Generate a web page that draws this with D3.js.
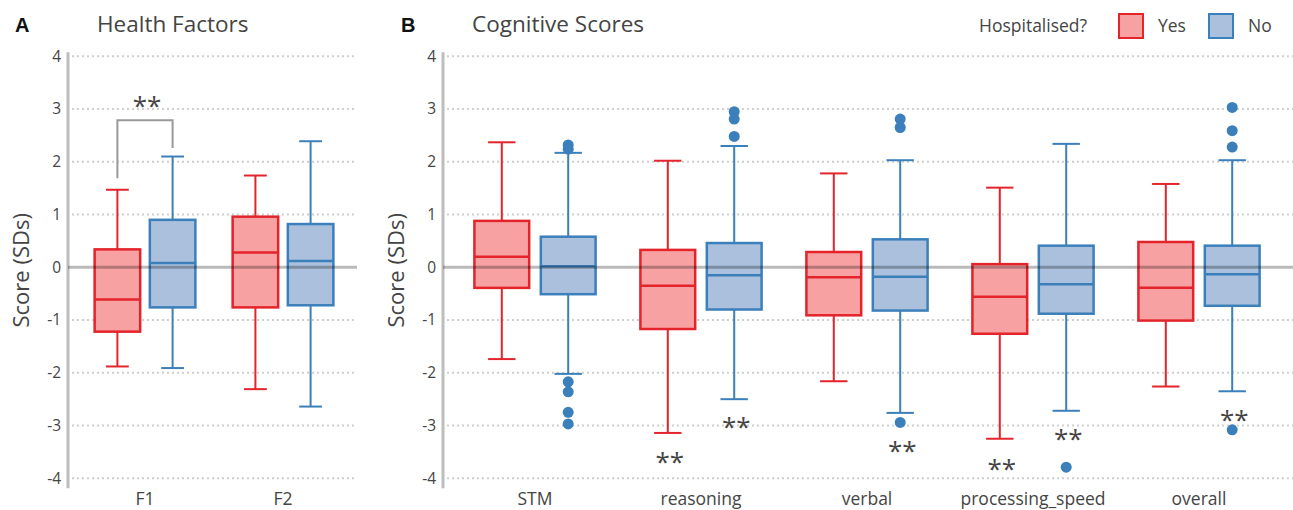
<!DOCTYPE html>
<html lang="en">
<head>
  <meta charset="UTF-8">
  <title>Health Factors and Cognitive Scores</title>
  <script src="https://d3js.org/d3.v7.min.js"></script>
  <style>
    body {
      margin: 0;
      background: #fff;
      font-family: 'Open Sans', 'Noto Sans', sans-serif;
    }
    svg {
      display: block;
    }
    .tick-label {
      font-size: 15.5px;
      fill: #444;
    }
    .cat-label {
      font-size: 17.5px;
      fill: #444;
    }
  </style>
</head>
<body>
  <svg id="chart" width="1293" height="510"></svg>

  <script>
    // --- data (scores in SDs) ---
    const groups = ["Yes", "No"];
    const yTicks = [-4, -3, -2, -1, 0, 1, 2, 3, 4];

    const healthCats = ["F1", "F2"];
    // [lower whisker, Q1, median, Q3, upper whisker]
    const healthYesStats = [[-1.88, -1.22, -0.61, 0.34, 1.47], [-2.31, -0.76, 0.28, 0.96, 1.74]];
    const healthNoStats  = [[-1.91, -0.76, 0.08, 0.90, 2.10], [-2.64, -0.72, 0.12, 0.82, 2.39]];

    const cogCats = ["STM", "reasoning", "verbal", "processing_speed", "overall"];
    const cogYesStats = [
      [-1.74, -0.39, 0.20, 0.88, 2.37],
      [-3.14, -1.17, -0.35, 0.33, 2.02],
      [-2.16, -0.91, -0.19, 0.29, 1.78],
      [-3.25, -1.26, -0.56, 0.06, 1.51],
      [-2.26, -1.01, -0.39, 0.48, 1.58]
    ];
    const cogNoStats = [
      [-2.02, -0.51, 0.02, 0.58, 2.17],
      [-2.50, -0.80, -0.15, 0.46, 2.30],
      [-2.76, -0.82, -0.18, 0.53, 2.03],
      [-2.72, -0.88, -0.32, 0.41, 2.34],
      [-2.35, -0.73, -0.13, 0.41, 2.03]
    ];
    const cogNoOutliers = [
      [2.32, 2.24, -2.17, -2.36, -2.75, -2.97],
      [2.95, 2.81, 2.48],
      [2.81, 2.65, -2.94],
      [-3.79],
      [3.03, 2.59, 2.28, -3.08]
    ];

    // significance stars in panel B
    const starCats   = ["reasoning", "reasoning", "verbal", "processing_speed", "processing_speed", "overall"];
    const starGroups = ["Yes", "No", "No", "Yes", "No", "No"];
    const starValues = [-3.63, -2.97, -3.42, -3.75, -3.19, -2.82];

    // bracket in panel A (F1 Yes vs No)
    const bracketTop = 2.79, bracketLeftEnd = 1.69, bracketRightEnd = 2.26, bracketStar = 3.12;

    const colors = { Yes: "#e3242b", No: "#3b7fbb" };
    const fills  = { Yes: "#f7a1a2", No: "#aac0dc" };

    const svg = d3.select("#chart");

    const y = d3.scaleLinear().domain([-4, 4]).range([478.3, 56.3]);

    // the asterisk glyph sits high in the em box, so push the baseline down
    const starShift = 12.5;

    function drawPanel(opt) {
      const g = svg.append("g");
      const x = d3.scaleBand().domain(opt.cats).range(opt.bandRange).padding(0);
      const step = x.step();
      const sub = d3.scalePoint().domain(groups).range([0.3 * step, 0.7 * step]);
      const boxW = step * 0.33;
      const capW = boxW * 0.5;

      // gridlines (dotted), except zero
      g.selectAll(".grid")
        .data(yTicks.filter(d => d !== 0))
        .join("line")
        .attr("x1", opt.gridRange[0] + 4)
        .attr("x2", opt.gridRange[1])
        .attr("y1", d => y(d))
        .attr("y2", d => y(d))
        .attr("stroke", "#cfcfcf")
        .attr("stroke-width", 2)
        .attr("stroke-dasharray", "2,3");

      // y axis line
      g.append("line")
        .attr("x1", opt.gridRange[0]).attr("x2", opt.gridRange[0])
        .attr("y1", y(4) - 4).attr("y2", y(-4) + 10)
        .attr("stroke", "#bdbdbd")
        .attr("stroke-width", 3);

      // tick labels
      g.selectAll(".tick-label")
        .data(yTicks)
        .join("text")
        .attr("class", "tick-label")
        .attr("x", opt.gridRange[0] - 7)
        .attr("y", d => y(d))
        .attr("dy", "0.35em")
        .attr("text-anchor", "end")
        .text(d => d);

      // category labels
      g.selectAll(".cat-label")
        .data(opt.cats)
        .join("text")
        .attr("class", "cat-label")
        .attr("x", d => x(d) + step / 2)
        .attr("y", 505)
        .attr("text-anchor", "middle")
        .text(d => d);

      // boxes
      const rows = [];
      opt.cats.forEach((c, i) => {
        rows.push({ cat: c, group: "Yes", s: opt.yes[i], out: opt.yesOut ? opt.yesOut[i] : [] });
        rows.push({ cat: c, group: "No", s: opt.no[i], out: opt.noOut ? opt.noOut[i] : [] });
      });

      const box = g.selectAll(".box")
        .data(rows)
        .join("g")
        .attr("transform", d => `translate(${x(d.cat) + sub(d.group)},0)`);

      // whiskers
      box.append("line")
        .attr("x1", 0).attr("x2", 0)
        .attr("y1", d => y(d.s[0])).attr("y2", d => y(d.s[4]))
        .attr("stroke", d => colors[d.group]).attr("stroke-width", 2);
      box.append("line")
        .attr("x1", -capW / 2).attr("x2", capW / 2)
        .attr("y1", d => y(d.s[0])).attr("y2", d => y(d.s[0]))
        .attr("stroke", d => colors[d.group]).attr("stroke-width", 2);
      box.append("line")
        .attr("x1", -capW / 2).attr("x2", capW / 2)
        .attr("y1", d => y(d.s[4])).attr("y2", d => y(d.s[4]))
        .attr("stroke", d => colors[d.group]).attr("stroke-width", 2);

      box.append("rect")
        .attr("x", -boxW / 2)
        .attr("width", boxW)
        .attr("y", d => y(d.s[3]))
        .attr("height", d => y(d.s[1]) - y(d.s[3]))
        .attr("fill", d => fills[d.group])
        .attr("stroke", d => colors[d.group])
        .attr("stroke-width", 2.5);

      box.append("line")
        .attr("x1", -boxW / 2).attr("x2", boxW / 2)
        .attr("y1", d => y(d.s[2])).attr("y2", d => y(d.s[2]))
        .attr("stroke", d => colors[d.group]).attr("stroke-width", 2.5);

      box.selectAll("circle")
        .data(d => d.out.map(v => ({ v, group: d.group })))
        .join("circle")
        .attr("cx", 0)
        .attr("cy", d => y(d.v))
        .attr("r", 5.5)
        .attr("fill", d => colors[d.group]);

      // zero line on top of the boxes
      g.append("line")
        .attr("x1", opt.gridRange[0]).attr("x2", opt.gridRange[1])
        .attr("y1", y(0)).attr("y2", y(0))
        .attr("stroke", "rgba(0,0,0,0.27)")
        .attr("stroke-width", 3);

      // y axis title
      g.append("text")
        .attr("transform", `translate(${opt.titleX},${y(0) + 3}) rotate(-90)`)
        .attr("text-anchor", "middle")
        .attr("font-size", 22)
        .attr("fill", "#444")
        .text("Score (SDs)");

      // panel letter and title
      g.append("text")
        .attr("x", opt.letterX).attr("y", 32)
        .attr("font-size", 20).attr("font-weight", "bold")
        .attr("font-family", "'Liberation Sans', Arial, sans-serif")
        .attr("fill", "#111")
        .text(opt.letter);
      g.append("text")
        .attr("x", opt.headX).attr("y", 32)
        .attr("font-size", 22.5)
        .attr("fill", "#444")
        .text(opt.title);

      return { g, x, sub, step };
    }

    const pA = drawPanel({
      cats: healthCats, yes: healthYesStats, no: healthNoStats,
      bandRange: [76, 352], gridRange: [68, 357],
      titleX: 29, letter: "A", letterX: 15, headX: 97, title: "Health Factors"
    });

    const pB = drawPanel({
      cats: cogCats, yes: cogYesStats, no: cogNoStats, noOut: cogNoOutliers,
      bandRange: [452, 1282], gridRange: [443, 1293],
      titleX: 404, letter: "B", letterX: 401, headX: 472, title: "Cognitive Scores"
    });

    // bracket in panel A
    const bxL = pA.x("F1") + pA.sub("Yes");
    const bxR = pA.x("F1") + pA.sub("No");
    pA.g.append("path")
      .attr("d", d3.line()([[bxL, y(bracketLeftEnd)], [bxL, y(bracketTop)], [bxR, y(bracketTop)], [bxR, y(bracketRightEnd)]]))
      .attr("fill", "none")
      .attr("stroke", "#999")
      .attr("stroke-width", 2);
    pA.g.append("text")
      .attr("class", "star")
      .attr("x", (bxL + bxR) / 2 + 2)
      .attr("y", y(bracketStar) + starShift)
      .attr("text-anchor", "middle")
      .attr("font-size", 26)
      .attr("fill", "#444")
      .text("**");

    // stars in panel B
    pB.g.selectAll(".star")
      .data(starCats.map((c, i) => ({ c, grp: starGroups[i], v: starValues[i] })))
      .join("text")
      .attr("class", "star")
      .attr("x", d => pB.x(d.c) + pB.sub(d.grp) + 2)
      .attr("y", d => y(d.v) + starShift)
      .attr("text-anchor", "middle")
      .attr("font-size", 26)
      .attr("fill", "#444")
      .text("**");

    // legend
    const legend = svg.append("g");
    legend.append("text")
      .attr("x", 979).attr("y", 26).attr("dy", "0.35em")
      .attr("font-size", 17.5).attr("fill", "#444")
      .text("Hospitalised?");
    const legX = d3.scalePoint().domain(groups).range([1119, 1209]);
    const item = legend.selectAll(".item")
      .data(groups)
      .join("g")
      .attr("transform", d => `translate(${legX(d)},14)`);
    item.append("rect")
      .attr("width", 24).attr("height", 24)
      .attr("fill", d => fills[d])
      .attr("stroke", d => colors[d])
      .attr("stroke-width", 2);
    item.append("text")
      .attr("x", 39).attr("y", 12).attr("dy", "0.35em")
      .attr("font-size", 17.5).attr("fill", "#444")
      .text(d => d);
  </script>
</body>
</html>
